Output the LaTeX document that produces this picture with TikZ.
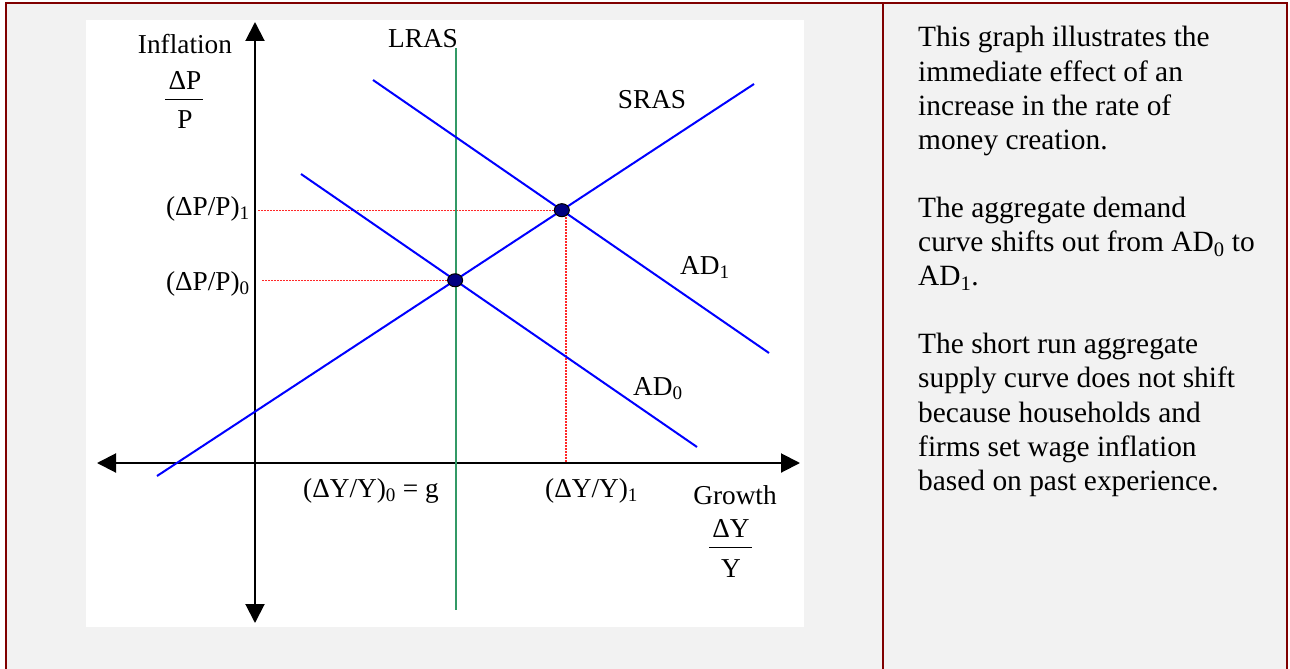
\documentclass[tikz,border=0pt]{standalone}
\usepackage{fontspec}
\setmainfont{Liberation Serif}
\usetikzlibrary{arrows.meta,shapes.geometric}
\definecolor{framered}{HTML}{800000}
\definecolor{cellgray}{HTML}{F2F2F2}
\definecolor{lrasgreen}{RGB}{51,153,102}
\definecolor{dotnavy}{RGB}{0,0,128}
\definecolor{guidered}{RGB}{255,40,40}
\tikzset{
  lbl/.style={font=\fontsize{27.3}{32}\selectfont, inner sep=0pt},
  axis/.style={line width=2pt, black, {Triangle[length=19pt,width=19pt]}-{Triangle[length=19pt,width=19pt]}},
  curve/.style={line width=2pt, blue},
  lras/.style={line width=2pt, lrasgreen},
  guide/.style={line width=1.2pt, guidered, dash pattern=on 1.5pt off 1.5pt},
  eqdot/.style={ellipse, minimum width=15pt, minimum height=13pt, inner sep=0pt, fill=dotnavy, draw=black, line width=1pt},
  border/.style={line width=2pt, framered}
}
\begin{document}
\begin{tikzpicture}[x=1pt,y=-1pt]
\useasboundingbox (0,0) rectangle (1290,669);
\fill[white] (0,0) rectangle (1290,669);
\fill[cellgray] (6,3) rectangle (1287,669);
\fill[white] (86,20) rectangle (804,627);
\draw[border] (6,669) -- (6,3) -- (1287,3) -- (1287,669);
\draw[border] (883,3) -- (883,669);

% curves
\coordinate (srasA) at (157,476);
\coordinate (srasB) at (754,84);
\coordinate (adzA) at (301,174);
\coordinate (adzB) at (697,447);
\coordinate (adoA) at (373,80);
\coordinate (adoB) at (769,353);
\coordinate (E0) at (intersection of srasA--srasB and adzA--adzB);
\coordinate (E1) at (intersection of srasA--srasB and adoA--adoB);

% guides
\coordinate (g1) at (258,0 |- E1);
\coordinate (g0) at (262,0 |- E0);
\coordinate (vtop) at (566,214);
\coordinate (vbot) at (566,462);
\draw[guide] (g1) -- (E1);
\draw[guide] (g0) -- (E0);
\draw[guide] (vtop) -- (vbot);

% axes
\coordinate (ytop) at (255,22);
\coordinate (ybot) at (255,623);
\coordinate (xleft) at (97,463);
\coordinate (xright) at (800,463);
\draw[axis] (ybot) -- (ytop);
\draw[axis] (xleft) -- (xright);

\draw[lras] (456,48) -- (456,610);
\draw[curve] (srasA) -- (srasB);
\draw[curve] (adzA) -- (adzB);
\draw[curve] (adoA) -- (adoB);

\node[eqdot] (dot0) at (E0) {};
\node[eqdot] (dot1) at (E1) {};

% labels
\node[lbl, anchor=base] (infl) at (185,54) {Inflation};
\node[lbl, anchor=base] (dP) at (185,89) {ΔP};
\node[lbl, anchor=base] (P) at (185,128) {P};
\draw[line width=1pt] (165,99) -- (203,99);
\node[lbl, anchor=base] (lraslbl) at (423,48) {LRAS};
\node[lbl, anchor=base] (sraslbl) at (652,108) {SRAS};
\node[lbl, anchor=base east] (pp1) at (250,215) {(ΔP/P)\textsubscript{1}};
\node[lbl, anchor=base east] (pp0) at (250,290) {(ΔP/P)\textsubscript{0}};
\node[lbl, anchor=base west] (ad1lbl) at (680,274) {AD\textsubscript{1}};
\node[lbl, anchor=base west] (ad0lbl) at (633,395) {AD\textsubscript{0}};
\node[lbl, anchor=base west] (yy0) at (303,497) {(ΔY/Y)\textsubscript{0} = g};
\node[lbl, anchor=base west] (yy1) at (545,497) {(ΔY/Y)\textsubscript{1}};
\node[lbl, anchor=base] (growth) at (735,504) {Growth};
\node[lbl, anchor=base] (dY) at (731,537) {ΔY};
\node[lbl, anchor=base] (Y) at (731,577) {Y};
\draw[line width=1pt] (709,547) -- (752,547);

% explanation
\node[anchor=base west, inner sep=0pt, font=\fontsize{29.4}{34.1}\selectfont] (expl) at (918,47)
{\parbox[t]{360pt}{\raggedright
This graph illustrates the\\
immediate effect of an\\
increase in the rate of\\
money creation.\\[34.1pt]
The aggregate demand\\
curve shifts out from AD\textsubscript{0} to\\
AD\textsubscript{1}.\\[34.1pt]
The short run aggregate\\
supply curve does not shift\\
because households and\\
firms set wage inflation\\
based on past experience.}};
\end{tikzpicture}
\end{document}
